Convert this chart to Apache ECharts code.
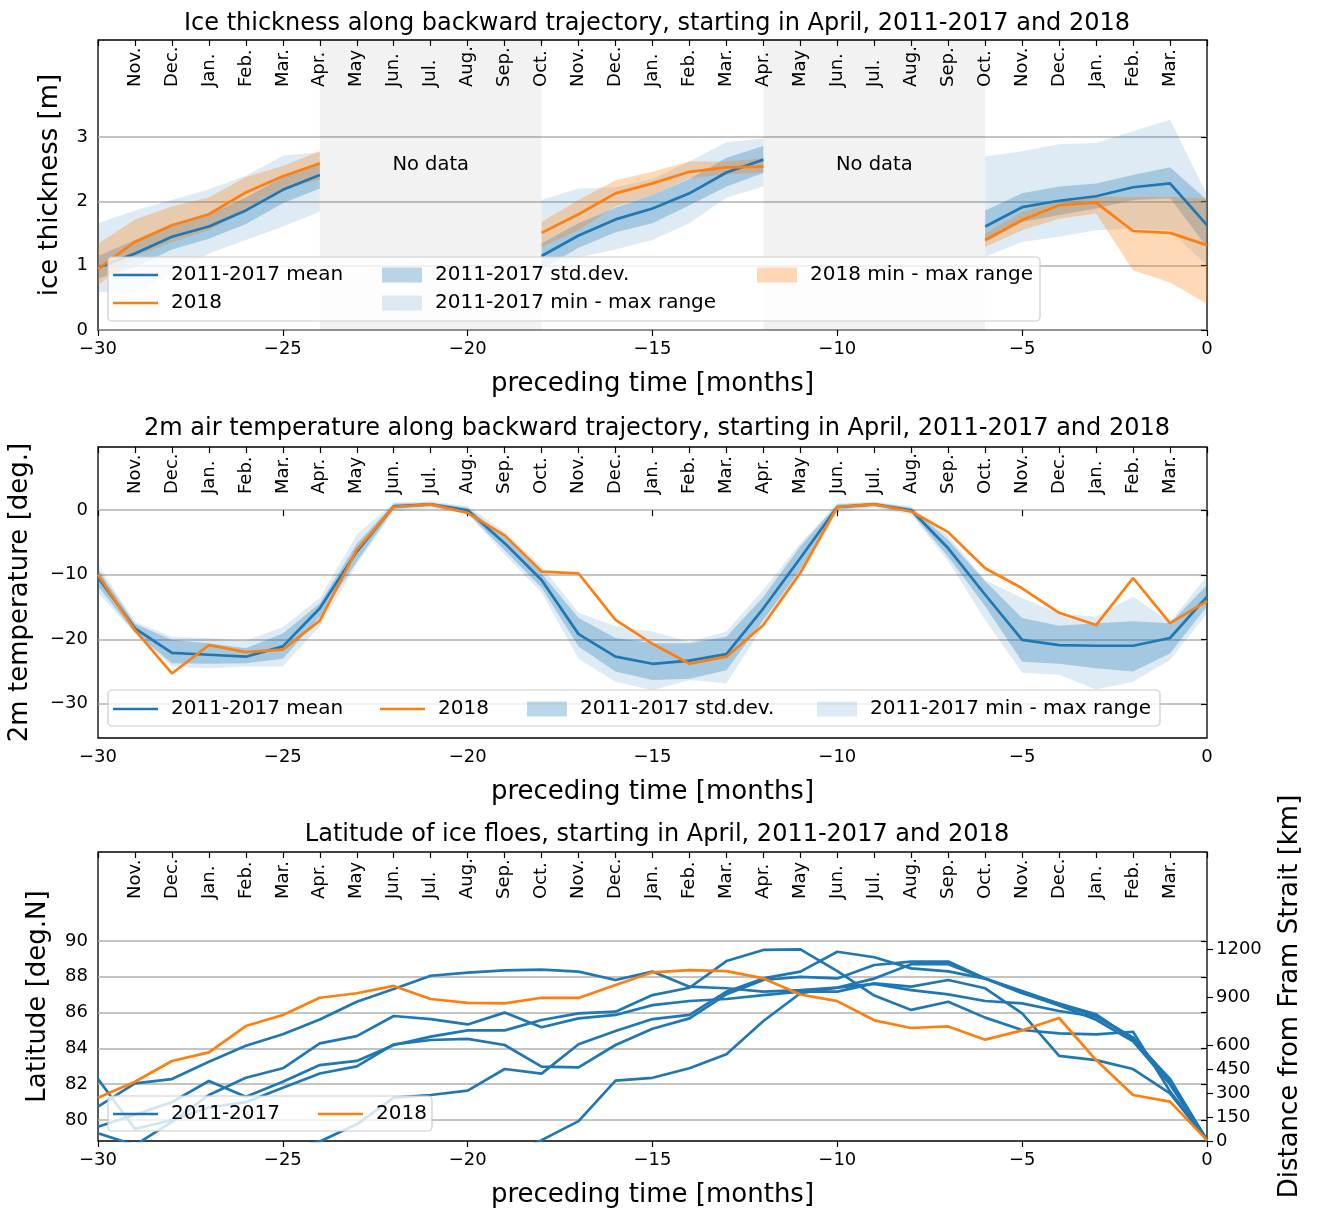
<!DOCTYPE html>
<html><head><meta charset="utf-8">
<script src="https://cdn.jsdelivr.net/npm/echarts@6/dist/echarts.min.js"></script>
<style>html,body{margin:0;padding:0;background:#fff}#c{width:1318px;height:1210px}</style>
</head><body><div id="c"></div>
<script>
const FONT = 'DejaVu Sans';
const BLUE = '#1f77b4', ORANGE = '#ff7f0e';
const months = [-30,-29,-28,-27,-26,-25,-24,-23,-22,-21,-20,-19,-18,-17,-16,-15,-14,-13,-12,-11,-10,-9,-8,-7,-6,-5,-4,-3,-2,-1,0];
const monthNames = ['Nov.','Dec.','Jan.','Feb.','Mar.','Apr.','May','Jun.','Jul.','Aug.','Sep.','Oct.','Nov.','Dec.','Jan.','Feb.','Mar.','Apr.','May','Jun.','Jul.','Aug.','Sep.','Oct.','Nov.','Dec.','Jan.','Feb.','Mar.'];
const N = null;

// Panel 1: ice thickness [m]
const thickMean = [0.97,1.19,1.45,1.61,1.86,2.18,2.41, N,N,N,N,N, 1.15,1.47,1.72,1.89,2.125,2.45,2.65, N,N,N,N,N, 1.61,1.91,2.01,2.08,2.22,2.28,1.63];
const thick2018 = [0.95,1.37,1.63,1.80,2.14,2.39,2.59, N,N,N,N,N, 1.51,1.80,2.125,2.28,2.46,2.53,2.54, N,N,N,N,N, 1.40,1.71,1.94,1.98,1.54,1.51,1.32];
const thickStdLo = [0.80,0.98,1.25,1.42,1.65,1.97,2.20, N,N,N,N,N, 0.95,1.28,1.52,1.66,1.94,2.23,2.44, N,N,N,N,N, 1.37,1.68,1.79,1.89,2.02,2.05,1.29];
const thickStdHi = [1.15,1.40,1.65,1.80,2.06,2.38,2.62, N,N,N,N,N, 1.35,1.66,1.90,2.10,2.35,2.68,2.86, N,N,N,N,N, 1.86,2.125,2.23,2.28,2.41,2.53,2.02];
const thickMinLo = [0.59,0.57,0.875,1.19,1.40,1.61,1.84, N,N,N,N,N, 0.80,1.13,1.25,1.40,1.66,2.06,2.23, N,N,N,N,N, 1.14,1.37,1.45,1.55,1.58,1.55,1.00];
const thickMaxHi = [1.66,1.86,2.02,2.19,2.40,2.71,2.77, N,N,N,N,N, 2.02,2.20,2.22,2.35,2.62,2.92,2.98, N,N,N,N,N, 2.70,2.78,2.89,2.91,3.09,3.27,2.10];
const thick18Lo = [0.70,1.14,1.37,1.55,1.86,2.18,2.34, N,N,N,N,N, 1.29,1.55,1.92,2.10,2.36,2.42,2.45, N,N,N,N,N, 1.29,1.55,1.73,1.81,0.93,0.74,0.41];
const thick18Hi = [1.34,1.72,1.92,2.06,2.38,2.55,2.78, N,N,N,N,N, 1.68,2.02,2.33,2.46,2.62,2.62,2.67, N,N,N,N,N, 1.50,1.84,2.00,2.07,2.07,2.07,2.05];

// Panel 2: 2m air temperature [deg.]
const tempMean = [-10.4,-18.3,-22.1,-22.4,-22.7,-21.1,-15.2,-6.4,0.6,0.9,0.0,-5.1,-10.8,-19.2,-22.7,-23.8,-23.3,-22.3,-15.2,-7.4,0.5,0.9,0.0,-5.9,-13.1,-20.1,-20.9,-21.0,-21.0,-19.8,-13.4];
const temp2018 = [-10.0,-18.6,-25.3,-20.9,-22.0,-21.6,-17.1,-6.1,0.5,0.9,-0.4,-3.9,-9.5,-9.8,-17.0,-20.7,-23.8,-22.7,-17.8,-9.7,0.5,0.9,-0.2,-3.4,-9.0,-12.1,-15.9,-17.8,-10.5,-17.5,-14.1];
const tempStdLo = [-11.8,-19.0,-23.7,-23.8,-23.7,-23.0,-16.5,-8.0,0.2,0.6,-0.5,-6.2,-12.0,-21.1,-25.0,-26.3,-26.1,-24.8,-17.0,-9.2,0.1,0.6,-0.4,-7.2,-14.9,-23.5,-23.8,-24.5,-25.0,-22.2,-14.9];
const tempStdHi = [-9.2,-17.6,-20.1,-20.6,-21.4,-19.1,-14.4,-5.2,1.0,1.2,0.4,-4.2,-9.8,-16.7,-19.8,-20.6,-20.6,-19.6,-13.4,-5.6,0.9,1.2,0.4,-4.6,-11.0,-16.7,-17.9,-17.5,-17.2,-17.5,-11.6];
const tempMinLo = [-12.8,-19.1,-24.2,-24.5,-24.2,-24.2,-18.0,-8.4,-0.2,0.3,-0.5,-6.9,-12.8,-23.0,-26.6,-27.9,-26.3,-26.8,-18.0,-10.4,-0.3,0.4,-0.7,-7.9,-17.0,-25.2,-25.5,-27.8,-26.6,-23.2,-16.0];
const tempMaxHi = [-8.4,-17.3,-19.6,-19.8,-20.2,-18.1,-13.6,-3.8,1.2,1.4,0.6,-3.3,-8.7,-15.9,-18.0,-18.8,-20.4,-18.8,-12.3,-5.1,1.1,1.3,0.6,-4.0,-10.8,-13.6,-16.0,-16.5,-13.4,-17.3,-10.2];

// Panel 3: latitude [deg.N]
const lat2018 = [81.25,82.14,83.30,83.78,85.25,85.87,86.83,87.08,87.49,86.76,86.54,86.52,86.83,86.82,87.54,88.25,88.37,88.32,87.91,87.01,86.64,85.57,85.14,85.23,84.49,85.01,85.70,83.35,81.40,81.03,78.88];
const latA = [80.75,82.05,82.29,83.26,84.15,84.79,85.62,86.61,87.32,88.06,88.23,88.36,88.40,88.29,87.82,88.29,87.45,87.36,87.17,87.26,87.40,87.60,87.26,87.02,86.65,86.52,86.09,85.77,84.60,82.00,78.88];
const latB = [79.63,80.30,81.00,82.18,81.30,82.14,83.07,83.30,84.19,84.66,85.01,85.01,85.59,85.96,86.05,86.98,87.39,88.88,89.50,89.53,88.32,86.95,86.15,86.61,85.72,85.03,84.84,84.79,84.93,81.60,78.88];
const latC = [82.29,79.50,80.00,80.70,81.00,81.80,82.60,83.00,84.23,84.47,84.53,84.19,82.98,82.94,84.19,85.10,85.68,87.02,87.82,88.00,87.91,88.66,88.85,88.85,87.90,87.20,86.50,85.90,84.50,82.30,78.88];
const latD = [79.26,78.60,79.90,81.40,82.36,82.89,84.28,84.69,85.81,85.64,85.34,86.00,85.18,85.68,85.87,86.42,86.65,86.76,86.98,87.17,87.17,87.63,87.45,87.82,87.36,85.96,83.58,83.35,82.85,81.49,78.88];
const latE = [78.00,77.60,77.50,77.60,77.90,78.30,78.80,79.76,81.25,81.40,81.64,82.85,82.59,84.23,84.97,85.64,85.87,87.17,87.91,88.29,89.40,89.09,88.47,88.30,87.90,87.10,86.40,85.60,84.40,82.00,78.88];
const latF = [76.00,76.00,76.00,76.00,76.00,76.00,76.00,76.20,76.50,77.00,77.50,77.90,78.88,79.94,82.20,82.36,82.89,83.67,85.53,87.08,87.40,87.90,88.70,88.70,87.90,87.10,86.50,85.80,84.60,82.20,78.88];
const latBlue = [latA, latB, latC, latD, latE, latF];

const thickTicks = [0,1,2,3];
const tempTicks = [-30,-20,-10,0];
const latTicks = [80,82,84,86,88,90];
const kmTicks = [0,150,300,450,600,900,1200];

const fmt = v => (v < 0 ? '\u2212' + Math.abs(v) : String(v));
const pts = arr => months.map((m, i) => [m, arr[i]]);

const tickTxt = {color: '#000', fontFamily: FONT, fontSize: 18};
const gridLine = {show: true, lineStyle: {color: '#b0b0b0', width: 1.5}};

// filled band between lo and hi, drawn as polygons in data coordinates
function band(name, lo, hi, color, gi, yi) {
  return {
    name, type: 'custom', xAxisIndex: gi * 2, yAxisIndex: yi, silent: true, z: 2, clip: true,
    itemStyle: {color}, color,
    data: months.map((m, i) => [m, lo[i] == null ? '-' : lo[i], hi[i] == null ? '-' : hi[i]]),
    encode: {x: 0, y: [1, 2]},
    renderItem: (params, api) => {
      if (params.dataIndex !== 0) return null;
      const children = [];
      let seg = [];
      const flush = () => {
        if (seg.length > 1) {
          const up = seg.map(i => api.coord([months[i], hi[i]]));
          const dn = seg.slice().reverse().map(i => api.coord([months[i], lo[i]]));
          children.push({type: 'polygon', shape: {points: up.concat(dn)}, style: {fill: color}});
        }
        seg = [];
      };
      months.forEach((m, i) => { if (lo[i] == null || hi[i] == null) flush(); else seg.push(i); });
      flush();
      return {type: 'group', children};
    }
  };
}
function line(name, arr, color, gi, yi, extra) {
  return Object.assign({name, type: 'line', xAxisIndex: gi * 2, yAxisIndex: yi, data: pts(arr), symbol: 'none', showSymbol: false,
    lineStyle: {color, width: 2.7}, itemStyle: {color}, color, z: 3, silent: true}, extra || {});
}

const C_MM = 'rgba(31,119,180,0.15)', C_SD = 'rgba(31,119,180,0.3)', C_OR = 'rgba(255,127,14,0.3)';

const series = [];
// panel 1
series.push(band('2011-2017 min - max range', thickMinLo, thickMaxHi, C_MM, 0, 0));
series.push(band('2011-2017 std.dev.', thickStdLo, thickStdHi, C_SD, 0, 0));
series.push(band('2018 min - max range', thick18Lo, thick18Hi, C_OR, 0, 0));
series.push(line('2011-2017 mean', thickMean, BLUE, 0, 0, {
  markArea: {silent: true, itemStyle: {color: 'rgba(0,0,0,0.05)'},
    label: {show: true, formatter: 'No data', position: ['50%', '43%'], align: 'center', verticalAlign: 'middle',
            color: '#000', fontFamily: FONT, fontSize: 19.5},
    data: [[{xAxis: -24}, {xAxis: -18}], [{xAxis: -12}, {xAxis: -6}]]}
}));
series.push(line('2018', thick2018, ORANGE, 0, 0));
// panel 2
series.push(band('2011-2017 min - max range', tempMinLo, tempMaxHi, C_MM, 1, 1));
series.push(band('2011-2017 std.dev.', tempStdLo, tempStdHi, C_SD, 1, 1));
series.push(line('2011-2017 mean', tempMean, BLUE, 1, 1));
series.push(line('2018', temp2018, ORANGE, 1, 1));
// panel 3
latBlue.forEach(a => series.push(line('2011-2017', a, BLUE, 2, 2)));
series.push(line('2018', lat2018, ORANGE, 2, 2));

const grids = [
  {left: 98, right: 111, top: 40, height: 290},
  {left: 98, right: 111, top: 447, height: 291},
  {left: 98, right: 111, top: 852, height: 289}
].map(g => Object.assign(g, {show: true, borderColor: '#000', borderWidth: 1.3, backgroundColor: 'transparent', containLabel: false, outerBoundsMode: 'none'}));

const xAxis = [];
[0, 1, 2].forEach(gi => {
  xAxis.push({type: 'value', gridIndex: gi, min: -30, max: 0, interval: 5, position: 'bottom',
    axisLine: {show: false}, axisTick: {show: true, length: 6, lineStyle: {color: '#000', width: 1.2}},
    axisLabel: Object.assign({formatter: fmt, margin: 10}, tickTxt), splitLine: {show: false},
    name: 'preceding time [months]', nameLocation: 'middle', nameGap: 41,
    nameTextStyle: {color: '#000', fontFamily: FONT, fontSize: 26}});
  xAxis.push({type: 'value', gridIndex: gi, min: -30, max: 0, interval: 1, position: 'top',
    axisLine: {show: false}, axisTick: {show: true, inside: true, length: 6, lineStyle: {color: '#000', width: 1.2}},
    axisLabel: {show: true, inside: true, rotate: -90, margin: 47, align: 'left', verticalAlign: 'middle',
      color: '#000', fontFamily: FONT, fontSize: 18,
      formatter: v => (v > -30 && v < 0) ? monthNames[v + 29] : ''},
    splitLine: {show: false}});
});

const yName = {color: '#000', fontFamily: FONT, fontSize: 26};
const yAxis = [
  {type: 'value', gridIndex: 0, min: 0, max: 4.51, axisLine: {show: false},
   axisTick: {show: true, length: 6, customValues: thickTicks, lineStyle: {color: '#000', width: 1.2}},
   axisLabel: Object.assign({customValues: thickTicks, formatter: fmt, margin: 10}, tickTxt), splitLine: gridLine,
   name: 'ice thickness [m]', nameLocation: 'middle', nameGap: 35, nameTextStyle: yName},
  {type: 'value', gridIndex: 1, min: -35.3, max: 9.8, axisLine: {show: false},
   axisTick: {show: true, length: 6, customValues: tempTicks, lineStyle: {color: '#000', width: 1.2}},
   axisLabel: Object.assign({customValues: tempTicks, formatter: fmt, margin: 10}, tickTxt), splitLine: gridLine,
   name: '2m temperature [deg.]', nameLocation: 'middle', nameGap: 65, nameTextStyle: yName},
  {type: 'value', gridIndex: 2, min: 78.83, max: 94.97, axisLine: {show: false},
   axisTick: {show: true, length: 6, customValues: latTicks, lineStyle: {color: '#000', width: 1.2}},
   axisLabel: Object.assign({customValues: latTicks, formatter: fmt, margin: 10}, tickTxt), splitLine: gridLine,
   name: 'Latitude [deg.N]', nameLocation: 'middle', nameGap: 47, nameTextStyle: yName},
  {type: 'value', gridIndex: 2, position: 'right', min: 0, max: 1806, axisLine: {show: false},
   axisTick: {show: true, length: 6, customValues: kmTicks, lineStyle: {color: '#000', width: 1.2}},
   axisLabel: Object.assign({customValues: kmTicks, margin: 9, formatter: v => String(v)}, tickTxt), splitLine: {show: false},
   name: 'Distance from Fram Strait [km]', nameLocation: 'middle', nameGap: 70, nameTextStyle: yName}
];

const titleStyle = {color: '#000', fontFamily: FONT, fontSize: 24, fontWeight: 'normal'};
const title = [
  {text: 'Ice thickness along backward trajectory, starting in April, 2011-2017 and 2018', left: 652, top: 7, textAlign: 'center', textStyle: titleStyle},
  {text: '2m air temperature along backward trajectory, starting in April, 2011-2017 and 2018', left: 652, top: 412, textAlign: 'center', textStyle: titleStyle},
  {text: 'Latitude of ice floes, starting in April, 2011-2017 and 2018', left: 652, top: 818, textAlign: 'center', textStyle: titleStyle}
];

// legend: one component per entry so each sits where it does in the reference
const legTxt = {color: '#000', fontFamily: FONT, fontSize: 20, padding: [0, 0, 0, 8]};
function leg(name, left, top, kind, color) {
  const isLine = kind === 'line';
  return {selectedMode: false, left, top, orient: 'horizontal', padding: 0, z: 6,
    itemWidth: isLine ? 45 : 40, itemHeight: isLine ? 2.7 : 15, textStyle: legTxt,
    data: [{name, icon: 'rect', itemStyle: {color, opacity: 1}}]};
}
const legend = [
  leg('2011-2017 mean', 113, 265, 'line', BLUE),
  leg('2018', 113, 293, 'line', ORANGE),
  leg('2011-2017 std.dev.', 382, 265, 'rect', C_SD),
  leg('2011-2017 min - max range', 382, 293, 'rect', C_MM),
  leg('2018 min - max range', 757, 265, 'rect', C_OR),
  leg('2011-2017 mean', 113, 699, 'line', BLUE),
  leg('2018', 380, 699, 'line', ORANGE),
  leg('2011-2017 std.dev.', 527, 699, 'rect', C_SD),
  leg('2011-2017 min - max range', 817, 699, 'rect', C_MM),
  leg('2011-2017', 113, 1104, 'line', BLUE),
  leg('2018', 318, 1104, 'line', ORANGE)
];

const box = (x, y, w, h) => ({type: 'rect', z: 5, shape: {x, y, width: w, height: h, r: 4},
  style: {fill: 'rgba(255,255,255,0.8)', stroke: '#cccccc', lineWidth: 1.2}});
const graphic = [box(108, 257, 932, 64), box(108, 690, 1052, 36), box(108, 1096, 324, 35)];

const chart = echarts.init(document.getElementById('c'), null, {renderer: 'canvas'});
chart.setOption({animation: false, backgroundColor: '#fff', textStyle: {fontFamily: FONT},
  title, grid: grids, xAxis, yAxis, legend, graphic, series});
</script></body></html>
